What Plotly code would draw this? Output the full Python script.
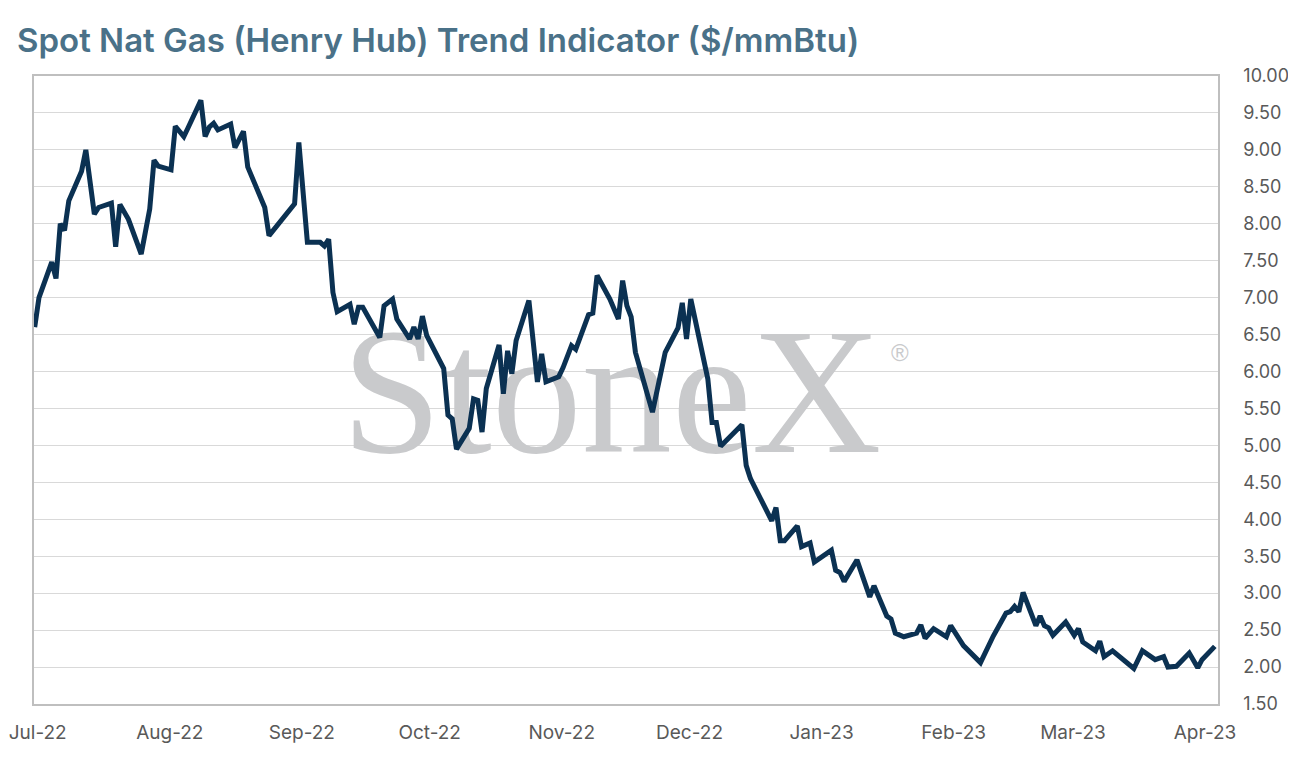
import plotly.graph_objects as go

# Henry Hub spot
dates = [
    '2022-07-01', '2022-07-02', '2022-07-05', '2022-07-06', '2022-07-07', '2022-07-08',
    '2022-07-09', '2022-07-12', '2022-07-13', '2022-07-15', '2022-07-16', '2022-07-19',
    '2022-07-20', '2022-07-21', '2022-07-23', '2022-07-26', '2022-07-28', '2022-07-29',
    '2022-07-30', '2022-08-02', '2022-08-03', '2022-08-05', '2022-08-06', '2022-08-09',
    '2022-08-10', '2022-08-11', '2022-08-12', '2022-08-13', '2022-08-16', '2022-08-17',
    '2022-08-19', '2022-08-20', '2022-08-24', '2022-08-25', '2022-08-31', '2022-09-01',
    '2022-09-03', '2022-09-06', '2022-09-07', '2022-09-08', '2022-09-09', '2022-09-10',
    '2022-09-13', '2022-09-14', '2022-09-15', '2022-09-16', '2022-09-20', '2022-09-21',
    '2022-09-23', '2022-09-24', '2022-09-27', '2022-09-28', '2022-09-29', '2022-09-30',
    '2022-10-01', '2022-10-05', '2022-10-06', '2022-10-07', '2022-10-08', '2022-10-11',
    '2022-10-12', '2022-10-13', '2022-10-14', '2022-10-15', '2022-10-18', '2022-10-19',
    '2022-10-20', '2022-10-21', '2022-10-22', '2022-10-25', '2022-10-27', '2022-10-28',
    '2022-10-29', '2022-11-01', '2022-11-02', '2022-11-04', '2022-11-05', '2022-11-08',
    '2022-11-09', '2022-11-10', '2022-11-13', '2022-11-15', '2022-11-16', '2022-11-17',
    '2022-11-18', '2022-11-19', '2022-11-23', '2022-11-26', '2022-11-29', '2022-11-30',
    '2022-12-01', '2022-12-02', '2022-12-06', '2022-12-07', '2022-12-08', '2022-12-09',
    '2022-12-14', '2022-12-15', '2022-12-16', '2022-12-21', '2022-12-22', '2022-12-23',
    '2022-12-24', '2022-12-27', '2022-12-28', '2022-12-30', '2022-12-31', '2023-01-04',
    '2023-01-05', '2023-01-06', '2023-01-07', '2023-01-10', '2023-01-13', '2023-01-14',
    '2023-01-17', '2023-01-18', '2023-01-19', '2023-01-21', '2023-01-24', '2023-01-25',
    '2023-01-26', '2023-01-28', '2023-01-31', '2023-02-01', '2023-02-04', '2023-02-08',
    '2023-02-11', '2023-02-14', '2023-02-15', '2023-02-16', '2023-02-17', '2023-02-18',
    '2023-02-21', '2023-02-22', '2023-02-23', '2023-02-24', '2023-02-25', '2023-02-28',
    '2023-03-02', '2023-03-03', '2023-03-04', '2023-03-07', '2023-03-08', '2023-03-09',
    '2023-03-11', '2023-03-16', '2023-03-18', '2023-03-21', '2023-03-23', '2023-03-24',
    '2023-03-26', '2023-03-29', '2023-03-31', '2023-04-01', '2023-04-04',
]

prices = [
    6.60, 7.00, 7.48, 7.26, 8.00, 7.91,
    8.31, 8.71, 9.00, 8.13, 8.22, 8.28,
    7.69, 8.26, 8.06, 7.59, 8.20, 8.86,
    8.78, 8.73, 9.32, 9.18, 9.30, 9.67,
    9.18, 9.31, 9.36, 9.27, 9.35, 9.03,
    9.25, 8.77, 8.22, 7.84, 8.27, 9.10,
    7.75, 7.75, 7.70, 7.79, 7.07, 6.81,
    6.91, 6.64, 6.87, 6.87, 6.46, 6.89,
    6.98, 6.71, 6.44, 6.60, 6.44, 6.75,
    6.49, 6.04, 5.41, 5.36, 4.95, 5.23,
    5.63, 5.61, 5.18, 5.77, 6.36, 5.70,
    6.28, 5.97, 6.42, 6.96, 5.86, 6.24,
    5.86, 5.93, 6.05, 6.35, 6.30, 6.77,
    6.79, 7.30, 6.98, 6.71, 7.23, 6.89,
    6.74, 6.26, 5.45, 6.26, 6.59, 6.93,
    6.44, 6.98, 5.90, 5.31, 5.31, 4.99,
    5.28, 4.73, 4.55, 3.98, 4.16, 3.71,
    3.71, 3.91, 3.63, 3.68, 3.42, 3.58,
    3.31, 3.28, 3.16, 3.45, 2.95, 3.10,
    2.69, 2.65, 2.46, 2.41, 2.46, 2.57,
    2.39, 2.52, 2.41, 2.56, 2.29, 2.06,
    2.42, 2.73, 2.75, 2.82, 2.75, 3.01,
    2.56, 2.69, 2.56, 2.53, 2.43, 2.61,
    2.43, 2.52, 2.34, 2.22, 2.35, 2.14,
    2.22, 1.98, 2.22, 2.10, 2.14, 2.00,
    2.01, 2.19, 1.99, 2.10, 2.28,
]

title_text = 'Spot Nat Gas (Henry Hub) Trend Indicator ($/mmBtu)'
watermark_text = 'StoneX'

FONT = 'Inter'
GREY = '#595959'
GRID = '#d9d9d9'
FRAME = '#bfbfbf'
LOGO_GREY = '#c9cacc'

# page has an 8px body margin, so the figure is a bit smaller than the window
W, H = 1280, 750


def build_figure():
    fig = go.Figure()

    # logo watermark as a text trace so the price line sits on top of it
    fig.add_trace(go.Scatter(
        x=['2022-11-13 10:00'], y=[5.52],
        mode='text', text=[watermark_text], textposition='middle center',
        textfont=dict(family='Liberation Serif', size=180, color=LOGO_GREY),
        hoverinfo='skip', cliponaxis=False,
    ))

    fig.add_trace(go.Scatter(
        x=dates,
        y=prices,
        mode='lines',
        line=dict(color='#0b3152', width=5),
        hoverinfo='x+y',
    ))

    fig.add_annotation(
        text='®', xref='paper', yref='paper', x=0.731, y=0.56,
        xanchor='center', yanchor='middle', showarrow=False,
        font=dict(family='Liberation Sans', size=24, color=LOGO_GREY),
    )

    fig.update_layout(
        width=W,
        height=H,
        paper_bgcolor='white',
        plot_bgcolor='white',
        showlegend=False,
        margin=dict(l=26, r=70, t=68, b=54),
        title=dict(
            text=title_text,
            x=9 / W, xanchor='left', xref='container',
            y=1 - 32 / H, yanchor='middle', yref='container',
            font=dict(family=FONT, size=33, weight=600, color='#4a7188'),
        ),
        font=dict(family=FONT, color=GREY),
    )

    fig.update_xaxes(
        type='date',
        range=['2022-06-30 20:00', '2023-04-04 18:00'],
        tick0='2022-07-01',
        dtick='M1',
        tickformat='%b-%y',
        showgrid=False,
        showline=True, mirror=True, linecolor=FRAME, linewidth=1.5,
        ticks='',
        ticklabelstandoff=10,
        ticklabelshift=3,
        ticklabeloverflow='allow',
        automargin=False,
        tickfont=dict(family=FONT, size=19, color=GREY),
    )
    fig.update_yaxes(
        side='right',
        range=[1.5, 10],
        dtick=0.5,
        tickformat='.2f',
        showgrid=True, gridcolor=GRID, gridwidth=1.4,
        showline=True, mirror=True, linecolor=FRAME, linewidth=1.5,
        zeroline=False,
        ticks='',
        ticklabelstandoff=20,
        automargin=False,
        tickfont=dict(family=FONT, size=18, color=GREY),
    )
    return fig


def main():
    fig = build_figure()
    fig.write_html('out.html')


if __name__ == '__main__':
    main()
